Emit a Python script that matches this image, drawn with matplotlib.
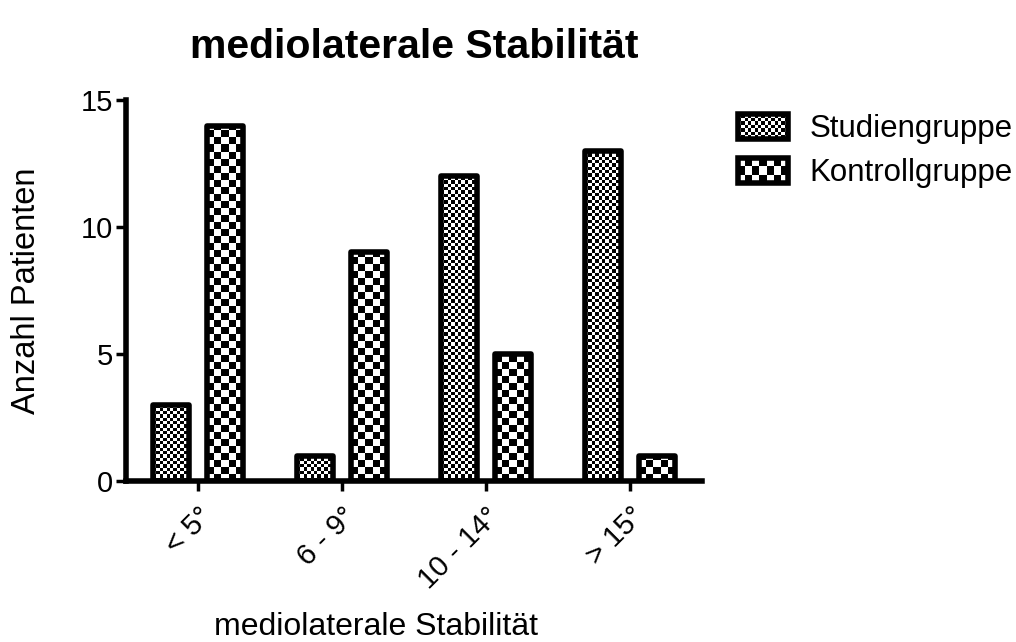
import numpy as np
import matplotlib
matplotlib.use("Agg")
import matplotlib.pyplot as plt
from matplotlib.colors import ListedColormap
from matplotlib.legend_handler import HandlerBase
from matplotlib.image import BboxImage
from matplotlib.transforms import Bbox, TransformedBbox
from matplotlib.patches import Rectangle, Patch

# ---- data ----
categories = ["< 5°", "6 - 9°", "10 - 14°", "> 15°"]
studiengruppe = [3, 1, 12, 13]
kontrollgruppe = [14, 9, 5, 1]
series_names = ["Studiengruppe", "Kontrollgruppe"]

plt.rcParams['font.family'] = ['Liberation Sans', 'DejaVu Sans']

DPI = 100
fig = plt.figure(figsize=(10.16, 6.42), dpi=DPI)
ax = fig.add_axes([0.124, 0.2508, 0.567, 0.5932])
XLIM = (-0.5, 3.5)
YLIM = (0, 15)
ax.set_xlim(*XLIM)
ax.set_ylim(*YLIM)

cmap = ListedColormap(['white', 'black'])


def checker(ny, nx):
    i, j = np.indices((ny, nx))
    return ((i + j) % 2).astype(float)


ax_w_px = 0.567 * 10.16 * DPI
ax_h_px = 0.5932 * 6.42 * DPI
px_per_x = ax_w_px / (XLIM[1] - XLIM[0])
px_per_y = ax_h_px / (YLIM[1] - YLIM[0])

x = np.arange(len(categories))
offset = 0.19
width = 0.25
cells = [3.3, 7.0]
LW = 4

for k, (vals, cell) in enumerate([(studiengruppe, cells[0]), (kontrollgruppe, cells[1])]):
    pos = x + (-offset if k == 0 else offset)
    bars = ax.bar(pos, vals, width=width, facecolor='none', edgecolor='black',
                  linewidth=LW, zorder=3, label=series_names[k])
    for b in bars:
        b.set_joinstyle('round')
        x0 = b.get_x()
        h = b.get_height()
        cw = cell / px_per_x
        ch = cell / px_per_y
        nx = int(np.ceil(width / cw)) + 1
        ny = int(np.ceil(h / ch)) + 1
        arr = checker(ny, nx)
        im = ax.imshow(arr, extent=(x0, x0 + nx * cw, 0, ny * ch), origin='lower',
                       cmap=cmap, vmin=0, vmax=1, interpolation='nearest',
                       aspect='auto', zorder=2)
        im.set_clip_path(b)

ax.set_xlim(*XLIM)
ax.set_ylim(*YLIM)

for s in ['top', 'right']:
    ax.spines[s].set_visible(False)
for s in ['left', 'bottom']:
    ax.spines[s].set_linewidth(4)

ax.set_yticks([0, 5, 10, 15])
ax.set_xticks(x)
ax.set_xticklabels(categories, rotation=45, ha='right', va='top',
                   rotation_mode='anchor')
ax.tick_params(axis='both', labelsize=21, width=2.5, length=7, color='black')
ax.tick_params(axis='x', pad=8)
ax.tick_params(axis='y', pad=2)

ax.set_ylabel("Anzahl Patienten", fontsize=23.5)
ax.yaxis.set_label_coords(-0.146, 0.5)
ax.set_xlabel("mediolaterale Stabilität", fontsize=23)
ax.xaxis.set_label_coords(0.434, -0.343)
ax.set_title("mediolaterale Stabilität", fontsize=29.5, fontweight='bold', pad=30)


class CheckerHandler(HandlerBase):
    def __init__(self, cell_px):
        super().__init__()
        self.cell_px = cell_px

    def create_artists(self, legend, orig_handle, xdescent, ydescent,
                       width, height, fontsize, trans):
        x0, y0 = -xdescent, -ydescent
        bb = TransformedBbox(Bbox.from_bounds(x0, y0, width, height), trans)
        wpx = width * DPI / 72
        hpx = height * DPI / 72
        nx = max(1, int(round(wpx / self.cell_px)))
        ny = max(1, int(round(hpx / self.cell_px)))
        img = BboxImage(bb, cmap=cmap, interpolation='nearest', origin='lower')
        img.set_data(checker(ny, nx))
        img.set_clim(0, 1)
        rect = Rectangle((x0, y0), width, height, facecolor='none',
                         edgecolor='black', linewidth=LW, transform=trans)
        return [img, rect]


h1 = Patch(label=series_names[0])
h2 = Patch(label=series_names[1])
leg = fig.legend(handles=[h1, h2], labels=series_names,
                 handler_map={h1: CheckerHandler(3.3), h2: CheckerHandler(7.0)},
                 loc='upper left', bbox_to_anchor=(0.726, 0.822),
                 frameon=False, fontsize=22.5, handlelength=1.6, handleheight=0.82,
                 handletextpad=0.7, labelspacing=0.45, borderpad=0, borderaxespad=0)

fig.savefig("out.png", dpi=DPI)
